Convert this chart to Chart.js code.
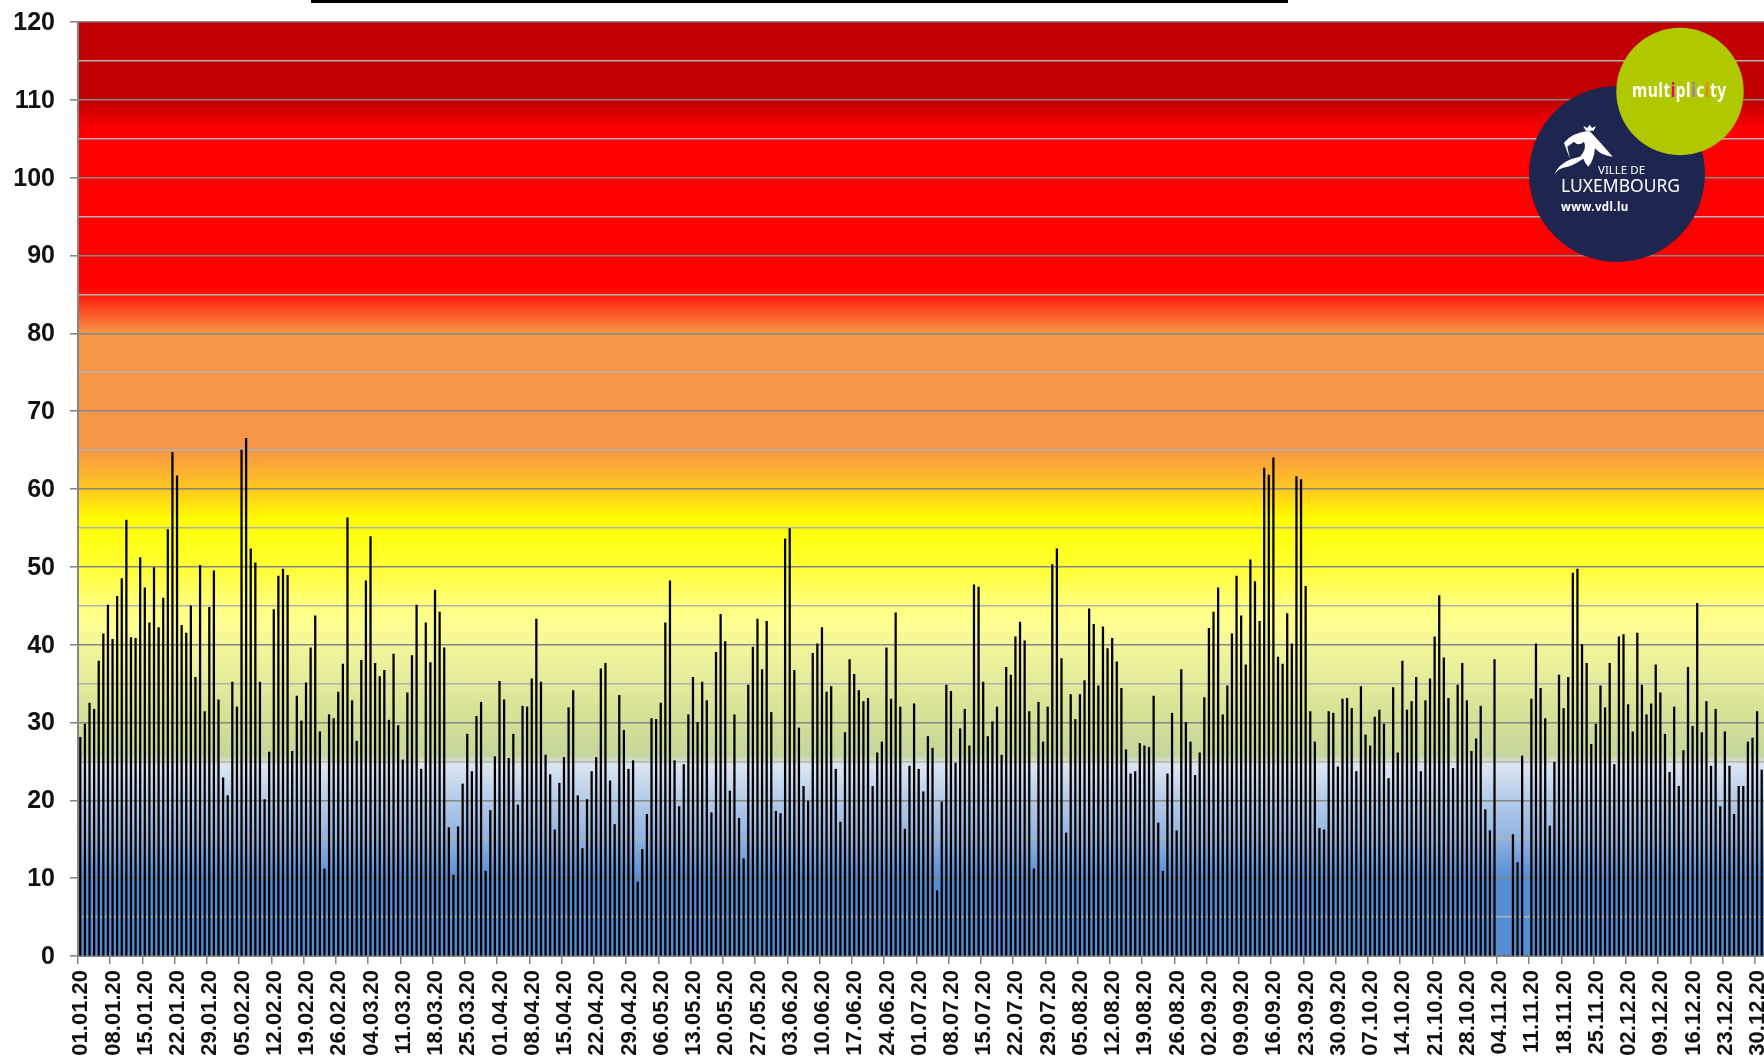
<!DOCTYPE html>
<html>
<head>
<meta charset="utf-8">
<title>Daily values 2020</title>
<script src="https://cdn.jsdelivr.net/npm/chart.js@4"></script>
<style>
  html, body { margin: 0; padding: 0; background: #fff; overflow: hidden; }
  canvas { display: block; }
</style>
</head>
<body>
<canvas id="myChart" width="1764" height="1057"></canvas>
<script>
// values, one bar per day of 2020
var valuesPart1 = [28.1, 29.8, 32.5, 31.7, 37.9, 41.4, 45.1, 40.7, 46.2, 48.5, 56, 40.9, 40.8, 51.2, 47.3, 42.8, 49.9, 42.2, 46, 54.8, 64.7, 61.7, 42.5, 41.5, 45, 35.8, 50.2, 31.4, 44.8, 49.5, 32.9, 22.9, 20.6, 35.2, 32, 65, 66.5, 52.3, 50.5, 35.2, 20.1, 26.2, 44.5, 48.8, 49.7, 48.9, 26.3, 33.4];
var valuesPart2 = [30.2, 35.1, 39.6, 43.7, 28.8, 11.2, 31, 30.5, 33.9, 37.5, 56.3, 32.8, 27.6, 38, 48.2, 53.9, 37.6, 35.9, 36.7, 30.3, 38.8, 29.6, 25.2, 33.8, 38.6, 45.1, 24, 42.8, 37.7, 47, 44.2, 39.6, 16.5, 10.4, 16.6, 22.1, 28.5, 23.7, 30.8, 32.6, 10.9, 18.7, 25.6, 35.3, 32.9, 25.4, 28.5, 19.4, 32.1, 32, 35.6, 43.3, 35.2, 25.8, 23.3, 16.2, 22.2, 25.5, 31.9, 34.1, 20.6, 13.8, 20.1];
var valuesPart3 = [23.7, 25.5, 36.9, 37.6, 22.5, 16.9, 33.5, 29, 24, 25.1, 9.5, 13.7, 18.2, 30.5, 30.4, 32.5, 42.8, 48.2, 25.1, 19.2, 24.6, 31, 35.8, 30, 35.2, 32.8, 18.4, 39, 43.9, 40.4, 21.2, 31, 17.7, 12.5, 34.8, 39.7, 43.3, 36.8, 43, 31.3, 18.6, 18.3, 53.6, 54.9, 36.7, 29.3, 21.8, 19.9, 38.9, 40.1, 42.2, 33.9, 34.6, 24, 17.2, 28.7, 38.1, 36.2, 34.1, 32.7, 33.1, 21.8, 26.1];
var valuesPart4 = [27.5, 39.6, 33, 44.1, 32, 16.3, 24.4, 32.4, 24, 21.1, 28.2, 26.7, 8.4, 19.8, 34.8, 34, 24.8, 29.2, 31.7, 27, 47.7, 47.4, 35.2, 28.2, 30.1, 32, 25.8, 37.1, 36.1, 41, 42.9, 40.5, 31.4, 11.2, 32.6, 27.5, 32, 50.3, 52.3, 38.2, 15.8, 33.6, 30.4, 33.6, 35.4, 44.6, 42.6, 34.7, 42.3, 39.5, 40.8, 37.8, 34.4, 26.5, 23.4, 23.7, 27.3, 27, 26.8, 33.4, 17.1, 10.9, 23.4];
var valuesPart5 = [31.2, 16.1, 36.8, 30, 27.5, 23.2, 26.1, 33.2, 42.1, 44.2, 47.3, 31, 34.7, 41.4, 48.8, 43.7, 37.4, 50.9, 48.1, 43, 62.7, 61.8, 64, 38.4, 37.5, 44, 40.1, 61.6, 61.2, 47.5, 31.4, 27.5, 16.4, 16.2, 31.4, 31.2, 24.3, 33, 33.1, 31.8, 23.7, 34.6, 28.4, 27, 30.7, 31.6, 29.8, 22.8, 34.5, 26.1, 37.9, 31.6, 32.7, 35.8, 23.7, 32.8, 35.6, 41, 46.3, 38.3, 33.1, 24.1, 34.8];
var valuesPart6 = [37.6, 32.8, 26.3, 27.9, 32.1, 18.8, 16.1, 38.1, 0, 0, 0, 15.6, 12, 25.7, 0, 33, 40.1, 34.4, 30.5, 16.7, 24.9, 36.1, 31.8, 35.8, 49.2, 49.7, 40, 37.6, 27.2, 29.8, 34.7, 31.9, 37.6, 24.6, 41, 41.3, 32.3, 28.8, 41.5, 34.8, 31, 32.4, 37.4, 33.8, 28.5, 23.6, 32, 21.8, 26.4, 37.1, 29.5, 45.3, 28.7, 32.7, 24.4, 31.7, 19.2, 28.8, 24.4, 18.2, 21.8, 21.8, 27.5, 28, 31.4, 23.9];
var dailyValues = [].concat(valuesPart1, valuesPart2, valuesPart3, valuesPart4, valuesPart5, valuesPart6);

var dayLabels = [];
for (var d = 0; d < 366; d++) {
    var date = new Date(Date.UTC(2020, 0, 1 + d));
    var dd = String(date.getUTCDate()).padStart(2, '0');
    var mm = String(date.getUTCMonth() + 1).padStart(2, '0');
    dayLabels.push(dd + '.' + mm + '.20');
}

// background bands: value on the axis and colour at that value
var bandValues = [120, 110, 106, 86, 80, 65, 60, 56, 50, 45, 43, 40, 35, 30, 25.8, 24.6, 20, 15, 10, 0];
var bandColours = ['#C00000', '#C00000', '#FF0000', '#FF0000', '#F79646', '#F79646', '#FFC81E', '#FFFF00', '#FFFF33', '#FFFF80', '#FFFF90', '#F3F69A', '#E3EA9A', '#D3DF96', '#C3D69B', '#DCE6F2', '#B4CBE8', '#8FB2E0', '#558ED5', '#558ED5'];

var bandBackground = {
    id: 'bandBackground',
    beforeDraw: function (chart) {
        var ctx = chart.ctx, area = chart.chartArea, y = chart.scales.y;
        var grad = ctx.createLinearGradient(0, y.getPixelForValue(120), 0, y.getPixelForValue(0));
        bandValues.forEach(function (v, i) {
            grad.addColorStop((120 - v) / 120, bandColours[i]);
        });
        ctx.save();
        ctx.fillStyle = grad;
        ctx.fillRect(area.left, area.top, area.right - area.left, area.bottom - area.top);
        ctx.restore();
    }
};

// the two round logos and the cut off title rule at the top edge
var overlays = {
    id: 'overlays',
    afterDraw: function (chart) {
        var ctx = chart.ctx;
        ctx.save();
        ctx.fillStyle = '#000';
        ctx.fillRect(311, 0, 977, 3);

        ctx.fillStyle = '#1E2650';
        ctx.beginPath();
        ctx.arc(1617, 174, 88, 0, Math.PI * 2);
        ctx.fill();

        ctx.fillStyle = '#B0C800';
        ctx.beginPath();
        ctx.arc(1680, 91.5, 63.7, 0, Math.PI * 2);
        ctx.fill();

        // lion, rough outline
        ctx.save();
        ctx.translate(1500, 0);
        ctx.scale(1 / 3, 1 / 3);
        ctx.fillStyle = '#fff';
        ctx.beginPath();
        ctx.moveTo(192, 428);
        ctx.quadraticCurveTo(215, 398, 268, 392);
        ctx.quadraticCurveTo(295, 420, 338, 470);
        ctx.quadraticCurveTo(305, 468, 285, 445);
        ctx.quadraticCurveTo(282, 480, 265, 500);
        ctx.quadraticCurveTo(255, 490, 250, 476);
        ctx.quadraticCurveTo(215, 500, 190, 503);
        ctx.quadraticCurveTo(172, 508, 163, 523);
        ctx.quadraticCurveTo(180, 482, 240, 470);
        ctx.quadraticCurveTo(262, 445, 252, 425);
        ctx.quadraticCurveTo(235, 440, 222, 425);
        ctx.lineTo(202, 440);
        ctx.lineTo(210, 478);
        ctx.closePath();
        ctx.fill();
        ctx.beginPath();
        ctx.moveTo(250, 378);
        ctx.lineTo(262, 384);
        ctx.lineTo(269, 374);
        ctx.lineTo(276, 384);
        ctx.lineTo(288, 378);
        ctx.lineTo(281, 392);
        ctx.lineTo(257, 392);
        ctx.closePath();
        ctx.fill();
        ctx.restore();

        ctx.fillStyle = '#fff';
        ctx.textBaseline = 'middle';
        ctx.textAlign = 'left';
        ctx.font = '11.5px "Noto Sans"';
        ctx.fillText('VILLE DE', 1598, 171);
        ctx.font = '17.5px "Noto Sans"';
        ctx.fillText('LUXEMBOURG', 1561, 187);
        ctx.font = 'bold 11.5px "Noto Sans"';
        ctx.letterSpacing = '0.4px';
        ctx.fillText('www.vdl.lu', 1561, 208);
        ctx.letterSpacing = '0px';

        var word = 'multiplicity';
        var letterColours = { 4: '#E6007E', 7: '#9A78B4', 9: '#F07D14' };
        ctx.save();
        ctx.translate(1632, 91);
        ctx.scale(0.78, 1);
        ctx.font = 'bold 20px "Noto Sans"';
        var x = 0;
        for (var i = 0; i < word.length; i++) {
            ctx.fillStyle = letterColours[i] || '#fff';
            ctx.fillText(word[i], x, 0);
            x += ctx.measureText(word[i]).width + 0.6;
        }
        ctx.restore();
        ctx.restore();
    }
};

var ctx = document.getElementById('myChart').getContext('2d');
var chart = new Chart(ctx, {
    type: 'bar',
    data: {
        labels: dayLabels,
        datasets: [{
            data: dailyValues,
            backgroundColor: '#000000',
            barThickness: 1.6
        }]
    },
    plugins: [bandBackground, overlays],
    options: {
        responsive: false,
        animation: false,
        layout: { padding: { top: 22, left: 0, right: -1.5, bottom: 0 } },
        plugins: { legend: { display: false }, title: { display: false }, tooltip: { enabled: false } },
        scales: {
            x: {
                afterFit: function (scale) {
                    scale.height = 101;
                    scale.paddingLeft = 0;
                    scale.paddingRight = 0;
                },
                border: { color: '#868686', width: 2 },
                grid: {
                    drawOnChartArea: false,
                    tickLength: 8,
                    lineWidth: 1.5,
                    tickColor: function (c) { return c.index % 7 === 0 ? '#868686' : 'transparent'; }
                },
                ticks: {
                    autoSkip: false,
                    minRotation: 90,
                    maxRotation: 90,
                    padding: 6,
                    labelOffset: 1,
                    color: '#111',
                    font: { family: '"Liberation Sans"', size: 22, weight: 'bold' },
                    callback: function (value, index) {
                        return index % 7 === 0 ? dayLabels[index] : '';
                    }
                }
            },
            y: {
                min: 0,
                max: 120,
                afterFit: function (scale) {
                    scale.width = 78;
                    scale.paddingTop = 0;
                    scale.paddingBottom = 0;
                },
                border: { color: '#868686', width: 2 },
                grid: {
                    lineWidth: 1.6,
                    tickLength: 8,
                    color: function (c) { return c.tick.value % 10 === 0 ? '#868686' : '#B2B2B2'; },
                    tickColor: function (c) { return c.tick.value % 10 === 0 ? '#868686' : 'transparent'; }
                },
                ticks: {
                    stepSize: 5,
                    autoSkip: false,
                    padding: 15,
                    labelOffset: 1,
                    color: '#111',
                    font: { family: '"Liberation Sans"', size: 25, weight: 'bold' },
                    callback: function (value) {
                        return value % 10 === 0 ? value : '';
                    }
                }
            }
        }
    }
});
</script>
</body>
</html>
